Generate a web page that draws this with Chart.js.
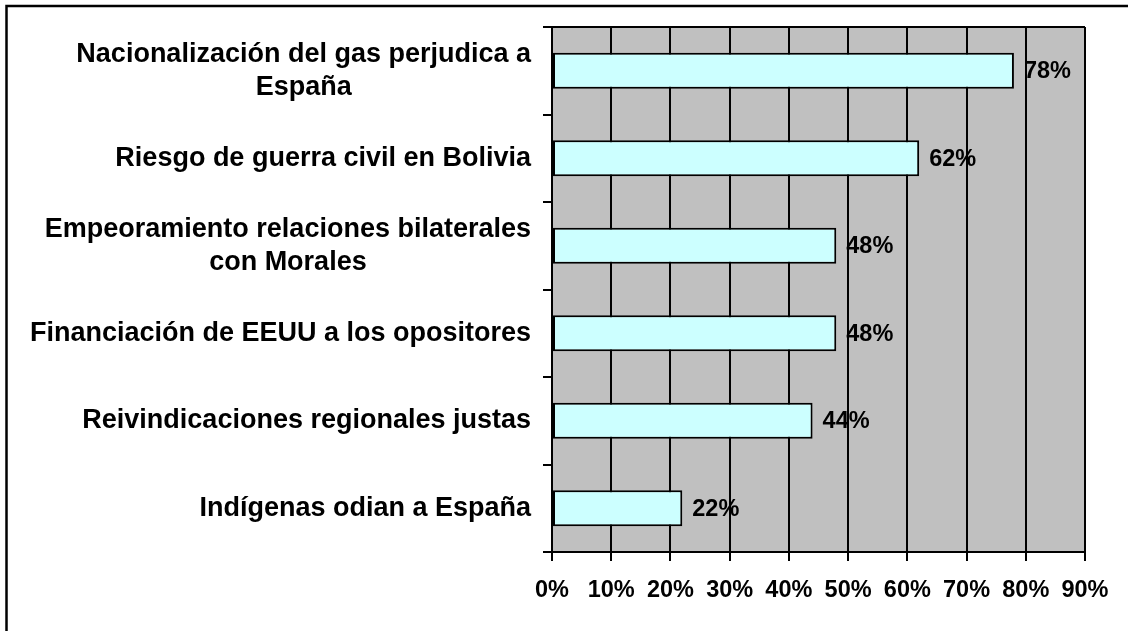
<!DOCTYPE html>
<html>
<head>
<meta charset="utf-8">
<script src="https://cdn.jsdelivr.net/npm/chart.js@4"></script>
<style>
  body { margin: 0; background: #fff; }
  #wrap { width: 1128px; height: 631px; position: relative; }
</style>
</head>
<body>
<div id="wrap"><canvas id="myChart"></canvas></div>
<script>
// data
const categories = [
    ['Nacionalización del gas perjudica a', 'España'],
    'Riesgo de guerra civil en Bolivia',
    ['Empeoramiento relaciones bilaterales', 'con Morales'],
    'Financiación de EEUU a los opositores',
    'Reivindicaciones regionales justas',
    'Indígenas odian a España'
];
const values = [78, 62, 48, 48, 44, 22];
const tickValues = [0, 10, 20, 30, 40, 50, 60, 70, 80, 90];

const FONT = "'Liberation Sans', Arial, sans-serif";

const extras = {
    id: 'extras',
    beforeDraw(chart) {
        const c = chart.ctx, a = chart.chartArea;
        c.save();
        c.fillStyle = '#c0c0c0'; // grey plot area
        c.fillRect(a.left, a.top, a.right - a.left, a.bottom - a.top);
        c.restore();
    },
    afterDraw(chart) {
        const c = chart.ctx, a = chart.chartArea;
        const y = chart.scales.y;
        c.save();
        // outer frame (only left and top are inside the picture)
        c.strokeStyle = '#000';
        c.lineWidth = 2.5;
        c.beginPath();
        c.moveTo(6.5, 640);
        c.lineTo(6.5, 6);
        c.lineTo(1140, 6);
        c.stroke();
        // plot area top edge
        c.lineWidth = 2;
        c.beginPath();
        c.moveTo(a.left, a.top);
        c.lineTo(a.right, a.top);
        c.stroke();

        // category labels, lines centred on each other, block right aligned
        c.fillStyle = '#000';
        c.font = 'bold 27px ' + FONT;
        c.textBaseline = 'middle';
        c.textAlign = 'center';
        const rightX = 531;
        const lineH = 33;
        categories.forEach((lab, i) => {
            const lines = Array.isArray(lab) ? lab : [lab];
            const w = Math.max(...lines.map(l => c.measureText(l).width));
            const cx = rightX - w / 2;
            const cy = y.getPixelForValue(i);
            lines.forEach((l, j) => {
                c.fillText(l, cx, cy + (j - (lines.length - 1) / 2) * lineH);
            });
        });

        // value labels
        c.font = 'bold 23.5px ' + FONT;
        c.textAlign = 'left';
        const meta = chart.getDatasetMeta(0);
        meta.data.forEach((bar, i) => {
            c.fillText(values[i] + '%', bar.x + 10, bar.y + 1);
        });
        c.restore();
    }
};

const canvas = document.getElementById('myChart');
const myChart = new Chart(canvas, {
    type: 'bar',
    data: {
        labels: categories,
        datasets: [{
            data: values,
            backgroundColor: '#ccffff',
            borderColor: '#000',
            borderWidth: 2,
            borderSkipped: false,
            barPercentage: 0.41,
            categoryPercentage: 1
        }]
    },
    options: {
        indexAxis: 'y',
        responsive: true,
        maintainAspectRatio: false,
        animation: false,
        layout: { padding: { left: 0, top: 27, right: 43, bottom: 0 } },
        scales: {
            x: {
                min: 0,
                max: 90,
                afterBuildTicks: (scale) => {
                    scale.ticks = tickValues.map(v => ({ value: v }));
                },
                afterFit: (scale) => { scale.height = 79; },
                grid: {
                    color: '#000',
                    lineWidth: 2,
                    tickLength: 9
                },
                border: { color: '#000', width: 2 },
                ticks: {
                    color: '#000',
                    padding: 15,
                    maxRotation: 0,
                    autoSkip: false,
                    font: { family: FONT, size: 23.5, weight: 'bold' },
                    callback: (v) => v + '%'
                }
            },
            y: {
                afterFit: (scale) => { scale.width = 552; },
                grid: {
                    offset: true,
                    drawOnChartArea: false,
                    color: '#000',
                    lineWidth: 2,
                    tickLength: 9
                },
                border: { color: '#000', width: 2 },
                ticks: { display: false }
            }
        },
        plugins: {
            legend: { display: false },
            tooltip: { enabled: false }
        }
    },
    plugins: [extras]
});
</script>
</body>
</html>
